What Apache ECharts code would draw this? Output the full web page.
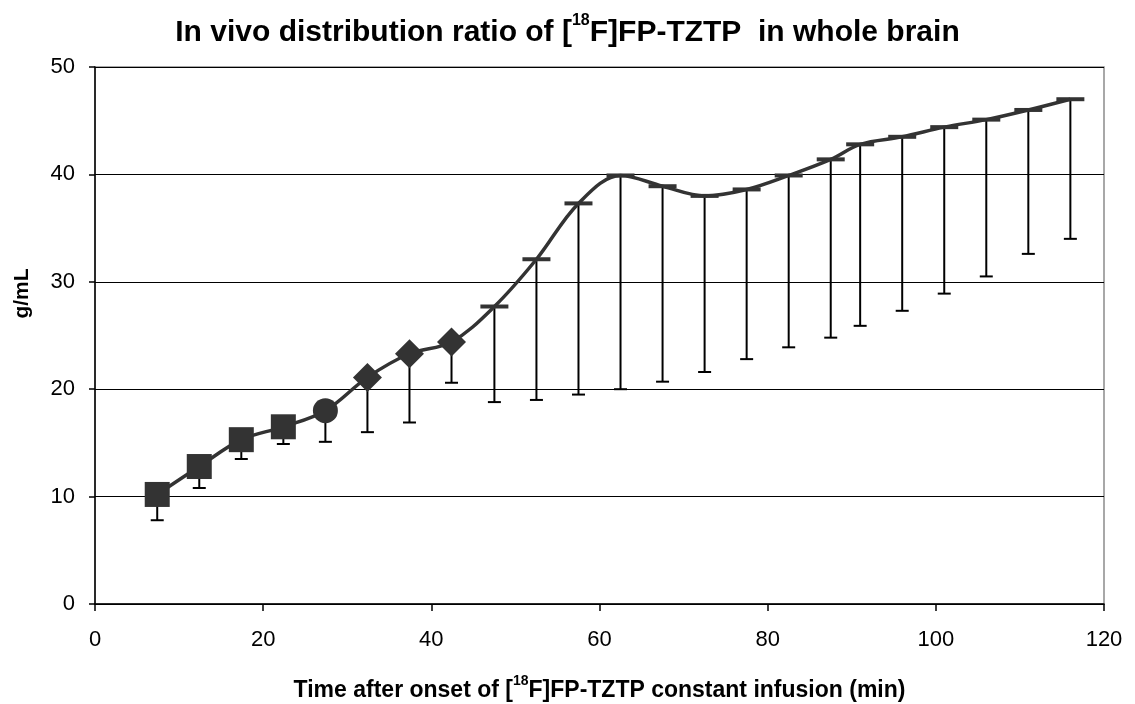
<!DOCTYPE html>
<html>
<head>
<meta charset="utf-8">
<title>In vivo distribution ratio</title>
<script src="https://cdn.jsdelivr.net/npm/echarts@6/dist/echarts.min.js"></script>
<style>
  html, body { margin: 0; padding: 0; background: #fff; }
  #main { width: 1135px; height: 704px; }
</style>
</head>
<body>
<div id="main"></div>
<script>
// time after onset of infusion (min)
const times = [7.4, 12.4, 17.4, 22.4, 27.4, 32.4, 37.4, 42.4, 47.5, 52.5, 57.5, 62.5,
  67.5, 72.5, 77.5, 82.5, 87.5, 91, 96, 101, 106, 111, 116];
// mean ratio (g/mL)
const means = [10.2, 12.8, 15.3, 16.5, 18.0, 21.1, 23.3, 24.4, 27.7, 32.1, 37.3, 39.9,
  38.9, 38.0, 38.6, 39.9, 41.4, 42.8, 43.5, 44.4, 45.1, 46.0, 47.0];
// lower end of the error bars
const lows = [7.8, 10.8, 13.5, 14.9, 15.1, 16.0, 16.9, 20.6, 18.8, 19.0, 19.5, 20.0,
  20.7, 21.6, 22.8, 23.9, 24.8, 25.9, 27.3, 28.9, 30.5, 32.6, 34.0];
const xTicks = [0, 20, 40, 60, 80, 100, 120];
const yTicks = [0, 10, 20, 30, 40, 50];

const FONT = '"Liberation Sans", Arial, sans-serif';
const INK = '#333333';

// marker shape depends on the measurement group (squares, circle, diamonds, then dashes)
function markerFor(i) {
  if (i < 4) return { symbol: 'rect', symbolSize: 25 };
  if (i === 4) return { symbol: 'circle', symbolSize: 25 };
  if (i < 8) return { symbol: 'diamond', symbolSize: 29 };
  return { symbol: 'rect', symbolSize: [28, 4] };
}

const lineData = times.map((t, i) => Object.assign({ value: [t, means[i]] }, markerFor(i)));
const errData = times.map((t, i) => [t, means[i], lows[i]]);

const chart = echarts.init(document.getElementById('main'));

const option = {
  backgroundColor: '#fff',
  animation: false,
  title: {
    text: '{n|In vivo distribution ratio of [}{s|18}{n|F]FP-TZTP  in whole brain}',
    left: 'center',
    top: 8,
    textStyle: {
      rich: {
        n: { fontFamily: FONT, fontWeight: 'bold', fontSize: 30, color: '#000', lineHeight: 35, verticalAlign: 'bottom' },
        s: { fontFamily: FONT, fontWeight: 'bold', fontSize: 16, color: '#000', lineHeight: 16, verticalAlign: 'top' }
      }
    }
  },
  grid: {
    left: 95,
    right: 31,
    top: 67,
    bottom: 100,
    outerBoundsMode: 'none',
    show: true,
    borderColor: '#8c8c8c',
    borderWidth: 1.5
  },
  xAxis: {
    type: 'value',
    min: 0,
    max: 120,
    interval: 20,
    name: '{n|Time after onset of [}{s|18}{n|F]FP-TZTP constant infusion (min)}',
    nameLocation: 'middle',
    nameGap: 70,
    nameTextStyle: {
      rich: {
        n: { fontFamily: FONT, fontWeight: 'bold', fontSize: 23, color: '#000', lineHeight: 28, verticalAlign: 'bottom' },
        s: { fontFamily: FONT, fontWeight: 'bold', fontSize: 14, color: '#000', lineHeight: 14, verticalAlign: 'top' }
      }
    },
    axisLine: { lineStyle: { color: '#000', width: 1.5 } },
    axisTick: { length: 7, lineStyle: { color: '#000', width: 1.5 } },
    axisLabel: {
      margin: 25,
      fontFamily: FONT,
      fontSize: 22,
      color: '#000',
      formatter: v => (xTicks.indexOf(v) >= 0 ? String(v) : '')
    },
    splitLine: { show: false }
  },
  yAxis: {
    type: 'value',
    min: 0,
    max: 50,
    interval: 10,
    name: 'g/mL',
    nameLocation: 'middle',
    nameGap: 62,
    nameTextStyle: {
      fontFamily: FONT,
      fontWeight: 'bold',
      fontSize: 21,
      color: '#000',
      padding: [0, 0, 0, 84]
    },
    axisLine: { show: true, lineStyle: { color: '#000', width: 1.5 } },
    axisTick: { show: true, length: 6, lineStyle: { color: '#000', width: 1.5 } },
    axisLabel: {
      margin: 20,
      fontFamily: FONT,
      fontSize: 22,
      color: '#000',
      formatter: v => (yTicks.indexOf(v) >= 0 ? String(v) : '')
    },
    splitLine: { show: true, lineStyle: { color: '#000', width: 1.2 } }
  },
  series: [
    {
      // minus-only error bars
      type: 'custom',
      z: 1,
      data: errData,
      renderItem: function (params, api) {
        const top = api.coord([api.value(0), api.value(1)]);
        const bot = api.coord([api.value(0), api.value(2)]);
        const half = 6.5;
        const st = { stroke: '#000', lineWidth: 2 };
        return {
          type: 'group',
          children: [
            { type: 'line', shape: { x1: top[0], y1: top[1], x2: bot[0], y2: bot[1] }, style: st },
            { type: 'line', shape: { x1: bot[0] - half, y1: bot[1], x2: bot[0] + half, y2: bot[1] }, style: st }
          ]
        };
      }
    },
    {
      type: 'line',
      z: 3,
      smooth: 0.35,
      data: lineData,
      lineStyle: { color: INK, width: 3.5 },
      itemStyle: { color: INK, borderWidth: 0 }
    }
  ]
};

chart.setOption(option);
</script>
</body>
</html>
